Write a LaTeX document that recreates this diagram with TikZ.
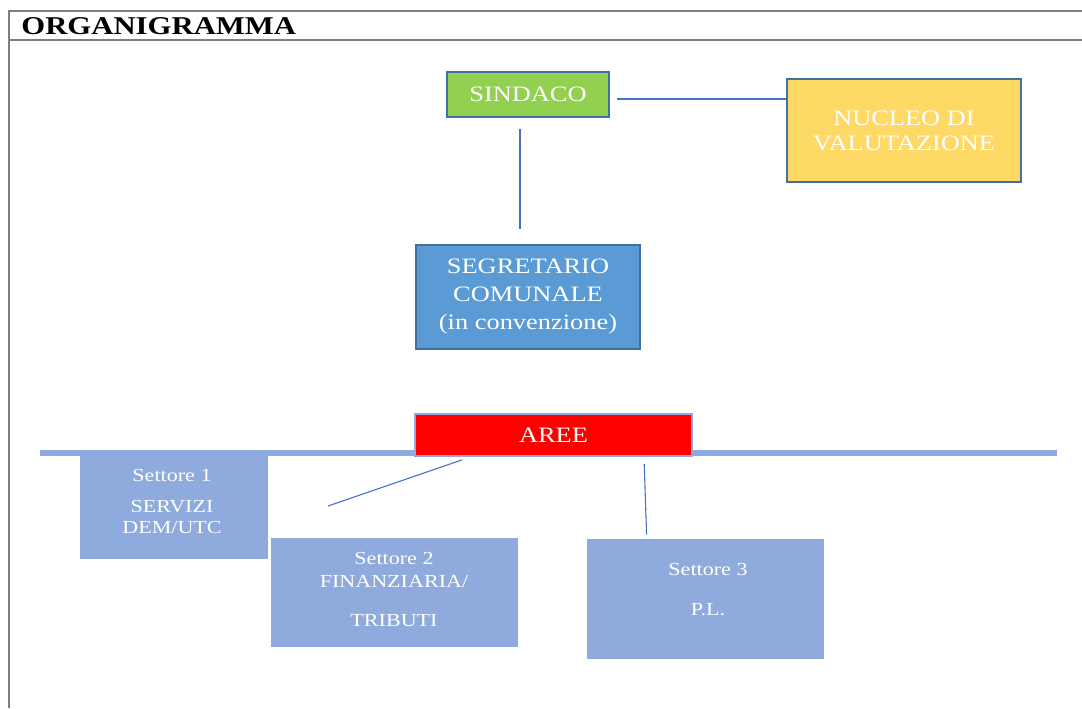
\documentclass[tikz,border=0pt]{standalone}
\usepackage{fontspec}
\setmainfont{Liberation Serif}[FakeStretch=1.2]
\usetikzlibrary{calc}
\definecolor{frameg}{HTML}{7F7F7F}
\definecolor{sgreen}{HTML}{92D050}
\definecolor{nyellow}{HTML}{FFD966}
\definecolor{sblue}{HTML}{5B9BD5}
\definecolor{bdark}{HTML}{41719C}
\definecolor{lblue}{HTML}{8FAADC}
\definecolor{cblue}{HTML}{4472C4}
\definecolor{ared}{HTML}{FF0000}
\tikzset{
  topbox/.style={draw=bdark, line width=1pt, text=white, align=center, inner sep=0pt},
  setbox/.style={fill=lblue, draw=none, inner sep=0pt},
  settxt/.style={text=white, align=center, inner sep=0pt, font=\fontsize{9.2}{10.5}\selectfont},
  conn/.style={draw=cblue, line width=0.55pt},
  framel/.style={draw=frameg, line width=0.8pt}
}
\begin{document}
\begin{tikzpicture}[x=0.5pt,y=-0.5pt]
\useasboundingbox (0,0) rectangle (1082,708);
% frame
\coordinate (f1) at (9,11);
\coordinate (f2) at (1082,11);
\coordinate (f3) at (9,40);
\coordinate (f4) at (1082,40);
\coordinate (f5) at (9,708);
\draw[framel] (f5) -- (f1) -- (f2);
\draw[framel] (f3) -- (f4);
\node[anchor=west, inner sep=0pt, font=\fontsize{12.8}{14}\selectfont\bfseries] (title) at (21,26) {ORGANIGRAMMA};

% top boxes
\node[topbox, fill=sgreen, minimum width=81pt, minimum height=22.5pt, font=\fontsize{11}{13}\selectfont] (sind) at (528,94.5) {SINDACO};
\node[topbox, fill=nyellow, minimum width=117pt, minimum height=51.5pt, font=\fontsize{11}{12.5}\selectfont] (nuc) at (904,130.5) {NUCLEO DI\\VALUTAZIONE};
\node[topbox, fill=sblue, minimum width=112pt, minimum height=52pt, font=\fontsize{11}{14}\selectfont] (seg) at (528,296.5) {SEGRETARIO\\COMUNALE\\(in convenzione)};

\draw[conn] ($(sind.east)+(7,4.5)$) -- ($(nuc.west)+(0,-31.5)$);
\draw[conn] ($(sind.south)+(-8,11)$) -- ($(seg.north)+(-8,-15)$);

% settori
\node[setbox, minimum width=94pt, minimum height=52pt] (s1) at (174,507) {};
\node[settxt] (s1t) at (172,501) {Settore 1\\[5pt]SERVIZI\\DEM/UTC};
\node[setbox, minimum width=123.5pt, minimum height=54.5pt] (s2) at (394.5,592.5) {};
\node[settxt] (s2t) at (394,589) {Settore 2\\[1pt]FINANZIARIA/\\[9pt]TRIBUTI};
\node[setbox, minimum width=118.5pt, minimum height=60pt] (s3) at (705.5,599) {};
\node[settxt] (s3t) at (708,590) {Settore 3\\[9.5pt]P.L.};

% bar
\coordinate (barl) at (40,453);
\coordinate (barr) at (1057,453);
\draw[lblue, line width=3pt] (barl) -- (barr);

% aree
\node[draw=lblue, line width=0.8pt, fill=ared, text=white, minimum width=138.5pt, minimum height=21pt, inner sep=0pt, font=\fontsize{11}{13}\selectfont] (aree) at (553.5,435) {AREE};

\coordinate (d2) at (328,506);
\draw[conn] ($(aree.south west)+(48,3)$) -- (d2);
\draw[conn] ($(aree.south west)+(230,7)$) -- ($(s3.north west)+(60,-4)$);
\end{tikzpicture}
\end{document}
